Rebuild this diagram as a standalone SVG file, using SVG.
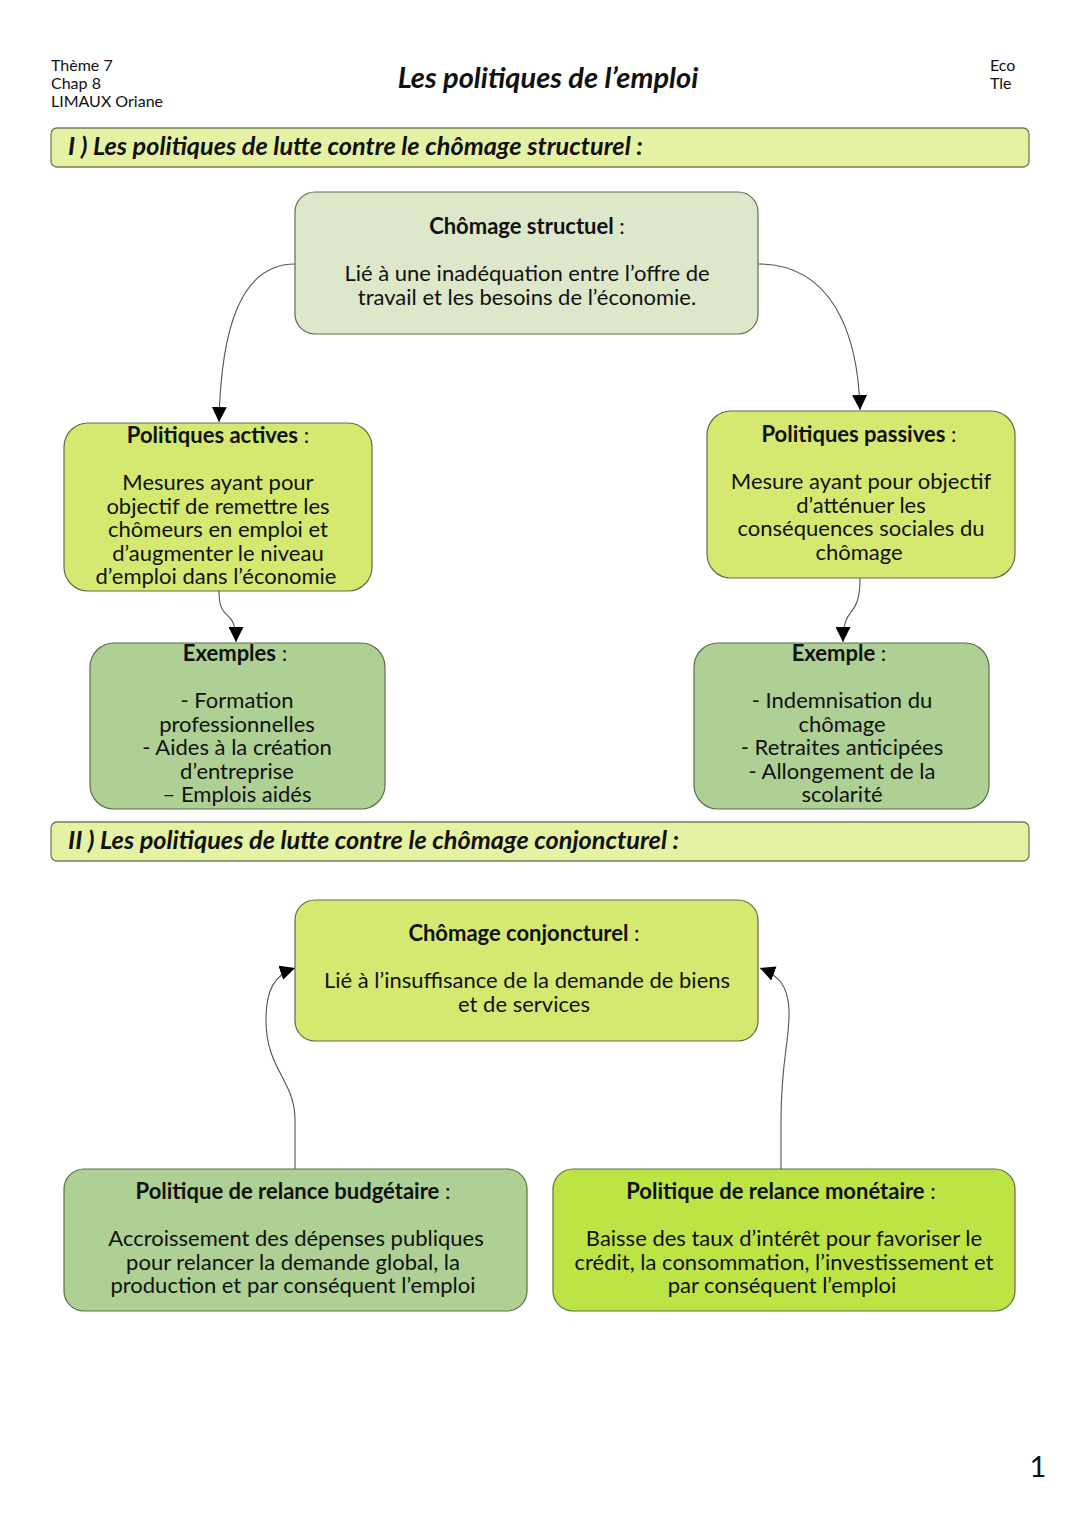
<svg xmlns="http://www.w3.org/2000/svg" width="1080" height="1527" viewBox="0 0 1080 1527">
<style>
text{font-family:Lato,"Liberation Sans",sans-serif;fill:#111;}
.hd{font-size:16px;}
.ttl{font-size:29px;font-weight:bold;font-style:italic;}
.sec{font-size:25.3px;font-weight:bold;font-style:italic;}
.t{font-size:22px;text-anchor:middle;}
.b{font-weight:bold;}
.bar{fill:#e5f2a3;stroke:#6f7f55;stroke-width:1.3;}
.n{stroke:#5e6e4c;stroke-width:1.2;}
.c1{fill:#dde7c9;}
.c2{fill:#d5e870;}
.c3{fill:#aed094;}
.c4{fill:#bde445;}
.cn{fill:none;stroke:#555;stroke-width:1.1;}
</style>
<defs>
<marker id="ah" viewBox="0 0 10 10" refX="10" refY="5" markerWidth="15" markerHeight="15" markerUnits="userSpaceOnUse" orient="auto">
<path d="M0,0 L10,5 L0,10 z" fill="#000"/>
</marker>
</defs>
<rect width="1080" height="1527" fill="#fff"/>
<g id="header">
<text class="hd" x="51" y="71">Thème 7</text>
<text class="hd" x="51" y="89">Chap 8</text>
<text class="hd" x="51" y="107">LIMAUX Oriane</text>
<text class="ttl" x="548" y="88" text-anchor="middle">Les politiques de l’emploi</text>
<text class="hd" x="990" y="71">Eco</text>
<text class="hd" x="990" y="89">Tle</text>
<text x="1038" y="1477" font-size="29" text-anchor="middle">1</text>
</g>
<g id="section1">
<rect class="bar" x="51" y="128" width="978" height="39" rx="6"/>
<text class="sec" x="68" y="155">I ) Les politiques de lutte contre le chômage structurel :</text>
</g>
<g id="section2">
<rect class="bar" x="51" y="822" width="978" height="39" rx="6"/>
<text class="sec" x="68" y="849">II ) Les politiques de lutte contre le chômage conjoncturel :</text>
</g>
<g id="connectors">
<path class="cn" d="M295,264 C240,264 221,330 219,422" marker-end="url(#ah)"/>
<path class="cn" d="M758,264 C830,264 858,330 860,410" marker-end="url(#ah)"/>
<path class="cn" d="M219,591 C219,625 236,605 236,642" marker-end="url(#ah)"/>
<path class="cn" d="M860,578 C860,622 843,602 843,642" marker-end="url(#ah)"/>
<path class="cn" d="M295,1169 L295,1120 C295,1080 266,1070 266,1020 C266,990 274,975 295,968" marker-end="url(#ah)"/>
<path class="cn" d="M781,1169 L781,1120 C781,1060 790,1040 789,1010 C788,985 778,975 760,968" marker-end="url(#ah)"/>
</g>
<g id="node-structurel">
<rect class="n c1" x="295" y="192" width="463" height="142" rx="20"/>
<text class="t" x="527" y="234"><tspan class="b">Chômage structuel</tspan> :</text>
<text class="t" x="527" y="281">Lié à une inadéquation entre l’offre de</text>
<text class="t" x="527" y="305">travail et les besoins de l’économie.</text>
</g>
<g id="node-actives">
<rect class="n c2" x="64" y="423" width="308" height="168" rx="24"/>
<text class="t" x="218" y="443"><tspan class="b">Politiques actives</tspan> :</text>
<text class="t" x="218" y="490">Mesures ayant pour</text>
<text class="t" x="218" y="514">objectif de remettre les</text>
<text class="t" x="218" y="537">chômeurs en emploi et</text>
<text class="t" x="218" y="561">d’augmenter le niveau</text>
<text class="t" x="216" y="584">d’emploi dans l’économie</text>
</g>
<g id="node-passives">
<rect class="n c2" x="707" y="411" width="308" height="167" rx="24"/>
<text class="t" x="859" y="442"><tspan class="b">Politiques passives</tspan> :</text>
<text class="t" x="861" y="489">Mesure ayant pour objectif</text>
<text class="t" x="861" y="513">d’atténuer les</text>
<text class="t" x="861" y="536">conséquences sociales du</text>
<text class="t" x="859" y="560">chômage</text>
</g>
<g id="node-exemples">
<rect class="n c3" x="90" y="643" width="295" height="166" rx="24"/>
<text class="t" x="235" y="661"><tspan class="b">Exemples</tspan> :</text>
<text class="t" x="237" y="708">- Formation</text>
<text class="t" x="237" y="732">professionnelles</text>
<text class="t" x="237" y="755">- Aides à la création</text>
<text class="t" x="237" y="779">d’entreprise</text>
<text class="t" x="237" y="802">–  Emplois aidés</text>
</g>
<g id="node-exemple">
<rect class="n c3" x="694" y="643" width="295" height="166" rx="24"/>
<text class="t" x="839" y="661"><tspan class="b">Exemple</tspan> :</text>
<text class="t" x="842" y="708">- Indemnisation du</text>
<text class="t" x="842" y="732">chômage</text>
<text class="t" x="842" y="755">- Retraites anticipées</text>
<text class="t" x="842" y="779">- Allongement de la</text>
<text class="t" x="842" y="802">scolarité</text>
</g>
<g id="node-conjoncturel">
<rect class="n c2" x="295" y="900" width="463" height="141" rx="20"/>
<text class="t" x="524" y="941"><tspan class="b">Chômage conjoncturel</tspan> :</text>
<text class="t" x="527" y="988">Lié à l’insuffisance de la demande de biens</text>
<text class="t" x="524" y="1012">et de services</text>
</g>
<g id="node-budgetaire">
<rect class="n c3" x="64" y="1169" width="463" height="142" rx="20"/>
<text class="t" x="293" y="1199"><tspan class="b">Politique de relance budgétaire</tspan> :</text>
<text class="t" x="296" y="1246">Accroissement des dépenses publiques</text>
<text class="t" x="293" y="1270">pour relancer la demande global, la</text>
<text class="t" x="293" y="1293">production et par conséquent l’emploi</text>
</g>
<g id="node-monetaire">
<rect class="n c4" x="553" y="1169" width="462" height="142" rx="20"/>
<text class="t" x="781" y="1199"><tspan class="b">Politique de relance monétaire</tspan> :</text>
<text class="t" x="784" y="1246">Baisse des taux d’intérêt pour favoriser le</text>
<text class="t" x="784" y="1270">crédit, la consommation, l’investissement et</text>
<text class="t" x="782" y="1293">par conséquent l’emploi</text>
</g>
</svg>
